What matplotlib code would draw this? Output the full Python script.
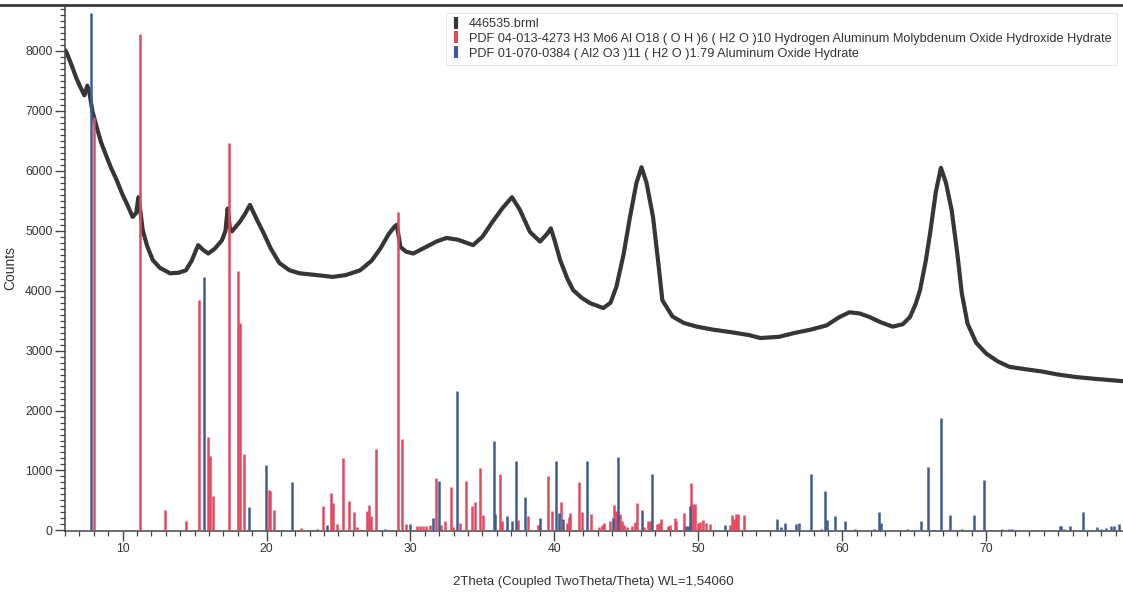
import numpy as np
import matplotlib
matplotlib.use("Agg")
import matplotlib.pyplot as plt
from matplotlib.lines import Line2D
from matplotlib.ticker import MultipleLocator

plt.rcParams['font.family'] = ['Liberation Sans', 'DejaVu Sans']

scan_theta = [6.0, 6.1, 6.4, 6.8, 7.1, 7.35, 7.55, 7.7, 7.9, 8.2, 8.5, 8.9, 9.2, 9.6, 10.0,
              10.3, 10.7, 10.95, 11.1, 11.25, 11.4, 11.7, 12.1, 12.6, 13.3, 13.9, 14.4, 14.8,
              15.25, 15.6, 15.95, 16.4, 16.9, 17.15, 17.3, 17.45, 17.6, 18.15, 18.5, 18.85,
              19.3, 19.8, 20.3, 20.9, 21.6, 22.3, 23.5, 24.6, 25.5, 26.5, 27.3, 27.9, 28.5,
              28.9, 29.05, 29.3, 29.7, 30.2, 31.0, 31.8, 32.5, 33.3, 34.35, 35.0, 35.7, 36.4,
              37.05, 37.6, 38.3, 39.0, 39.5, 39.75, 40.0, 40.4, 40.9, 41.3, 41.9, 42.5, 43.4,
              43.9, 44.3, 44.8, 45.25, 45.7, 46.05, 46.4, 46.85, 47.2, 47.5, 48.2, 49.0, 49.9,
              51.0, 52.2, 53.5, 54.3, 55.6, 56.6, 57.8, 58.9, 59.8, 60.5, 61.2, 61.9, 62.7,
              63.5, 64.2, 64.7, 65.1, 65.4, 65.8, 66.1, 66.5, 66.85, 67.2, 67.6, 68.0, 68.3,
              68.7, 69.3, 70.0, 70.8, 71.6, 72.7, 73.9, 75.0, 76.2, 77.5, 78.5, 79.5]
scan_counts = [8010, 7980, 7800, 7540, 7380, 7260, 7420, 7300, 7000, 6730, 6480, 6230, 6050,
               5840, 5600, 5450, 5230, 5300, 5560, 5300, 5010, 4750, 4510, 4380, 4290, 4300,
               4340, 4500, 4760, 4680, 4620, 4700, 4840, 5000, 5370, 5050, 4990, 5150, 5280,
               5430, 5200, 4960, 4700, 4460, 4340, 4290, 4260, 4230, 4260, 4340, 4500, 4700,
               4950, 5070, 5100, 4730, 4650, 4620, 4720, 4820, 4880, 4850, 4760, 4900, 5150,
               5380, 5560, 5350, 4980, 4820, 4950, 5040, 4850, 4510, 4200, 4010, 3880, 3790,
               3710, 3800, 4060, 4600, 5230, 5800, 6060, 5800, 5230, 4500, 3840, 3570, 3460,
               3400, 3350, 3310, 3260, 3210, 3230, 3290, 3350, 3420, 3560, 3640, 3620, 3560,
               3470, 3400, 3440, 3560, 3780, 4010, 4500, 4960, 5650, 6050, 5800, 5340, 4600,
               3960, 3450, 3130, 2950, 2820, 2730, 2690, 2650, 2600, 2560, 2530, 2510, 2490]

# PDF 04-013-4273 reference lines
mo_theta = [8.0, 11.18, 12.94, 14.4, 15.32, 15.95, 16.06, 16.25, 17.36, 18.04, 18.15, 18.45,
            20.14, 20.23, 20.5, 22.38, 23.93, 24.49, 24.63, 24.9, 25.32, 25.7, 26.06, 26.3,
            26.99, 27.12, 27.29, 27.61, 29.1, 29.42, 29.67, 30.45, 30.65, 30.85, 31.1, 31.34,
            31.74, 32.1, 32.43, 32.8, 32.96, 33.47, 33.89, 34.3, 34.49, 34.83, 35.04, 36.2,
            36.34, 37.47, 38.17, 38.86, 39.56, 39.8, 40.49, 40.87, 41.01, 41.1, 41.69, 41.94,
            42.57, 43.1, 43.33, 43.45, 43.84, 44.17, 44.28, 44.53, 44.67, 44.83, 45.07, 45.39,
            45.58, 45.76, 46.25, 46.53, 46.67, 47.13, 47.27, 47.43, 47.89, 48.0, 48.35, 48.47,
            49.0, 49.51, 49.63, 49.74, 49.97, 50.13, 50.32, 50.5, 50.83, 52.17, 52.33, 52.45,
            52.64, 52.75, 53.15]
mo_counts = [6890, 8290, 345, 150, 3845, 1555, 1235, 580, 6470, 4330, 3460, 1270,
             670, 660, 345, 40, 400, 620, 455, 105, 1205, 485, 305, 50,
             330, 425, 245, 1355, 5320, 1520, 105, 80, 70, 80, 75, 85,
             870, 95, 150, 720, 60, 120, 820, 400, 480, 1040, 260, 945,
             150, 180, 245, 85, 900, 330, 470, 130, 230, 290, 800, 315,
             270, 50, 95, 130, 160, 420, 330, 270, 150, 95, 55, 80,
             140, 455, 50, 150, 150, 115, 130, 190, 80, 95, 215, 150,
             290, 790, 445, 445, 130, 140, 175, 130, 115, 95, 260, 190,
             270, 270, 260]

# PDF 01-070-0384 reference lines
al_theta = [7.8, 15.65, 18.77, 19.93, 21.8, 23.54, 24.17, 28.2, 30.0, 31.57, 31.98, 33.26,
            35.78, 35.9, 36.69, 37.08, 37.31, 37.99, 39.03, 40.09, 40.32, 40.6, 42.26, 44.07,
            44.4, 46.06, 46.8, 49.17, 49.3, 49.4, 51.14, 51.3, 51.87, 53.95, 55.48, 55.76,
            55.99, 56.8, 56.99, 57.85, 58.5, 58.79, 58.96, 59.49, 60.2, 60.9, 62.2, 62.52,
            62.7, 64.5, 65.49, 65.97, 66.87, 67.45, 68.3, 69.14, 69.81, 70.4, 71.1, 71.6,
            71.8, 73.7, 75.1, 75.2, 75.4, 75.8, 76.7, 77.7, 78.0, 78.3, 78.7, 78.9, 79.2]
al_counts = [8630, 4230, 390, 1095, 815, 30, 85, 30, 105, 215, 830, 2330,
             1485, 270, 235, 150, 1150, 550, 200, 1165, 290, 190, 1160, 215,
             1220, 345, 940, 70, 70, 400, 15, 15, 85, 15, 190, 55,
             120, 100, 120, 940, 30, 660, 170, 245, 165, 20, 30, 305,
             120, 20, 165, 1055, 1875, 260, 20, 260, 835, 15, 30, 20,
             20, 15, 70, 70, 30, 70, 305, 50, 25, 40, 70, 70, 100]

labels = ['446535.brml',
          'PDF 04-013-4273 H3 Mo6 Al O18 ( O H )6 ( H2 O )10 Hydrogen Aluminum Molybdenum Oxide Hydroxide Hydrate',
          'PDF 01-070-0384 ( Al2 O3 )11 ( H2 O )1.79 Aluminum Oxide Hydrate']

scan_color = '#363634'
mo_color = '#e4485e'
al_color = '#3d5c92'

fig = plt.figure(figsize=(11.23, 5.92), dpi=100)
ax = fig.add_axes([65 / 1123, 1 - 531 / 592, 1 - 65 / 1123, 526 / 592])

ax.plot(scan_theta, scan_counts, color=scan_color, lw=3.0, solid_joinstyle='round', zorder=2)
ax.vlines(mo_theta, 0, mo_counts, color=mo_color, lw=1.8, zorder=3)
ax.vlines(al_theta, 0, al_counts, color=al_color, lw=1.8, zorder=3)

ax.set_xlim(6.0, 79.5)
ax.set_ylim(-10, 8767)
ax.xaxis.set_major_locator(MultipleLocator(10))
ax.xaxis.set_minor_locator(MultipleLocator(1))
ax.yaxis.set_major_locator(MultipleLocator(1000))
ax.yaxis.set_minor_locator(MultipleLocator(100))
ax.tick_params(axis='both', which='major', direction='out', length=7, width=1,
               color='#444444', labelsize=8.7, labelcolor='#333333', pad=2)
ax.tick_params(axis='both', which='minor', direction='out', length=3.5, width=0.9,
               color='#444444')
for side in ['top', 'right']:
    ax.spines[side].set_visible(False)
for side in ['left', 'bottom']:
    ax.spines[side].set_color('#444444')
    ax.spines[side].set_linewidth(1.1)

fig.text(593 / 1123, 1 - 582 / 592, '2Theta (Coupled TwoTheta/Theta) WL=1,54060',
         fontsize=9.5, color='#333333', ha='center', va='center')
ax.set_ylabel('Counts', fontsize=10, color='#333333', labelpad=6)

# frame line at the very top of the window
fig.add_artist(Line2D([0, 1], [1 - 5 / 592, 1 - 5 / 592], transform=fig.transFigure,
                      color='#3a3a3a', lw=2))

handles = [Line2D([], [], color=c, marker='|', linestyle='none', markersize=9, mew=3)
           for c in [scan_color, mo_color, al_color]]
leg = ax.legend(handles, labels, loc='upper left', bbox_to_anchor=(0.36, 0.985),
                fontsize=9.2, frameon=True, fancybox=False, handlelength=0.8,
                handletextpad=0.6, borderpad=0.4, labelspacing=0.22, borderaxespad=0)
leg.get_frame().set_edgecolor('#e2e2e2')
leg.get_frame().set_linewidth(0.8)
for t in leg.get_texts():
    t.set_color('#333333')

fig.savefig('out.png', dpi=100)
